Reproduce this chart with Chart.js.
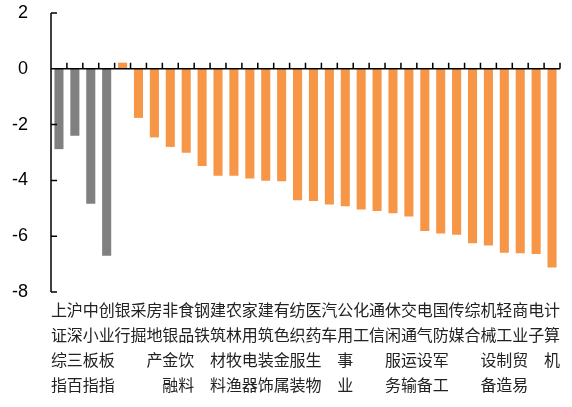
<!DOCTYPE html>
<html>
<head>
<meta charset="utf-8">
<script src="https://cdn.jsdelivr.net/npm/chart.js@4"></script>
<style>
    html, body { margin: 0; padding: 0; background: #fff; }
    #wrap { width: 572px; height: 407px; }
</style>
</head>
<body>
<div id="wrap"><canvas id="chart"></canvas></div>
<script>
// index names first (gray), then sectors (orange)
const indexNames = ['上证综指', '沪深三百', '中小板指', '创业板指'];
const sectorNames = ['银行', '采掘', '房地产', '非银金融', '食品饮料', '钢铁', '建筑材料', '农林牧渔',
    '家用电器', '建筑装饰', '有色金属', '纺织服装', '医药生物', '汽车', '公用事业', '化工', '通信',
    '休闲服务', '交通运输', '电气设备', '国防军工', '传媒', '综合', '机械设备', '轻工制造', '商业贸易',
    '电子', '计算机'];
const indexValues = [-2.88, -2.40, -4.84, -6.70];
const sectorValues = [0.22, -1.76, -2.46, -2.80, -3.01, -3.48, -3.83, -3.83, -3.93, -4.01, -4.03,
    -4.71, -4.74, -4.86, -4.93, -5.04, -5.10, -5.18, -5.29, -5.81, -5.90, -5.95, -6.25, -6.33,
    -6.59, -6.61, -6.64, -7.12];
const yTicks = [2, 0, -2, -4, -6, -8];

const GRAY = '#808080';
const ORANGE = '#F79646';

const names = indexNames.concat(sectorNames);
const values = indexValues.concat(sectorValues);
const colors = indexNames.map(() => GRAY).concat(sectorNames.map(() => ORANGE));

// axes drawn by hand: y line with inward ticks, x line at zero with upward ticks
const axisPlugin = {
    id: 'axes',
    afterDatasetsDraw(chart) {
        const { ctx, chartArea, scales } = chart;
        const x = scales.x, y = scales.y;
        ctx.save();
        ctx.strokeStyle = '#000';
        ctx.lineWidth = 1.5;
        const left = chartArea.left;
        ctx.beginPath();
        ctx.moveTo(left, y.getPixelForValue(2));
        ctx.lineTo(left, y.getPixelForValue(-8));
        yTicks.forEach(v => {
            const py = y.getPixelForValue(v);
            ctx.moveTo(left, py);
            ctx.lineTo(left + 6, py);
        });
        const y0 = y.getPixelForValue(0);
        ctx.moveTo(left, y0);
        ctx.lineTo(chartArea.right, y0);
        for (let i = 0; i <= names.length; i++) {
            const px = x.getPixelForValue(i - 0.5);
            ctx.moveTo(px, y0);
            ctx.lineTo(px, y0 - 6);
        }
        ctx.stroke();
        ctx.restore();
    }
};

const ctx = document.getElementById('chart').getContext('2d');
const chart = new Chart(ctx, {
    type: 'bar',
    data: {
        labels: names.map(n => n.split('')),
        datasets: [{
            data: values,
            backgroundColor: colors,
            borderWidth: 0,
            barPercentage: 0.57,
            categoryPercentage: 1.0
        }]
    },
    options: {
        responsive: true,
        maintainAspectRatio: false,
        animation: false,
        layout: { padding: { top: 13, right: 12, left: 0, bottom: 0 } },
        plugins: {
            legend: { display: false },
            tooltip: { enabled: false }
        },
        scales: {
            x: {
                grid: { display: false, drawTicks: false },
                border: { display: false },
                afterFit: s => {
                    s.height = 115;
                    s.paddingTop = 0;
                    s.paddingBottom = 0;
                },
                ticks: {
                    autoSkip: false,
                    maxRotation: 0,
                    minRotation: 0,
                    padding: 6,
                    color: '#222',
                    font: { family: '"Noto Sans CJK SC"', size: 16, lineHeight: '24.7px' }
                }
            },
            y: {
                min: -8,
                max: 2,
                grid: { display: false, drawTicks: false },
                border: { display: false },
                afterFit: s => {
                    s.width = 51;
                    s.paddingTop = 0;
                    s.paddingBottom = 0;
                },
                ticks: {
                    stepSize: 2,
                    padding: 23,
                    color: '#000',
                    font: { family: '"Liberation Sans", Arial', size: 18 }
                }
            }
        }
    },
    plugins: [axisPlugin]
});
</script>
</body>
</html>
